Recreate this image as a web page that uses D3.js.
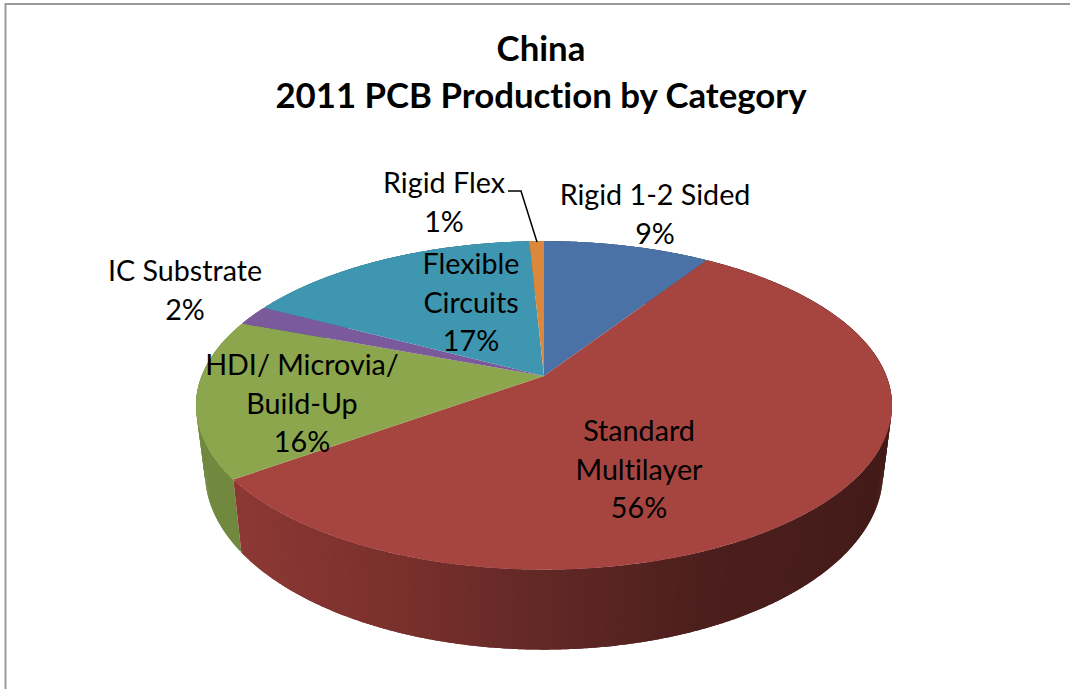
<!DOCTYPE html>
<html><head><meta charset="utf-8">
<script src="https://cdn.jsdelivr.net/npm/d3@7/dist/d3.min.js"></script>
<style>html,body{margin:0;padding:0;background:#fff;overflow:hidden}svg{display:block}text{font-family:Lato,Carlito,Calibri,sans-serif;fill:#000;font-variant-ligatures:none}</style>
</head><body><svg id="c" width="1070" height="689"></svg>
<script>
const categories = ["Rigid 1-2 Sided","Standard Multilayer","HDI/ Microvia/ Build-Up","IC Substrate","Flexible Circuits","Rigid Flex"];
const values = [9.2,55.9,15.6,2.0,16.5,0.8];
const titleLines = ["China","2011 PCB Production by Category"];
const topColors = ["#4a72a6","#a64440","#8ba64c","#7b5a9c","#3f96b0","#dc883c"];
const sideColors = ["#3a5a82","#8a3733","#71893f","#5f4679","#31768a","#ac6a2e"];
const labelLines = [["Rigid 1-2 Sided"],["Standard","Multilayer"],["HDI/ Microvia/","Build-Up"],["IC Substrate"],["Flexible","Circuits"],["Rigid Flex"]];
const labelAnchor = [[655,205],[639,441],[302,375],[185,281],[471,274],[444,193]];

const svg = d3.select("#c");
svg.append("rect").attr("x",5.5).attr("y",4).attr("width",1200).attr("height",900)
  .attr("fill","#fff").attr("stroke","#999").attr("stroke-width",2);

// perspective pie plane
const k = 0.179;
const sx = d3.scaleLinear().domain([-1,1]).range([544-342.4,544+342.4]);
const sy = d3.scaleLinear().domain([-1,1]).range([376-159,376+159]);
function topPt(a){const u=Math.sin(a), v=-Math.cos(a), w=1-k*v; return [sx(u/w), sy(v/w)];}
const bx = d3.scaleLinear().domain([544-348,544+348]).range([544-339,544+339]);
const by = d3.scaleLinear().domain([241,570]).range([295.4,650]);
function botPt(a){const p=topPt(a); return [bx(p[0]), by(p[1])];}

const pie = d3.pie().sort(null).value(d=>d)(values);
const line = d3.line();
const redShade = d3.scaleLinear().domain([240,420,560,700,880])
  .range(["#8c3834","#772f2c","#5f2725","#4c1f1d","#441b19"]).clamp(true);

// side wall: overlapping strips, clamped to each slice, so no seams show
const strips=[];
pie.forEach((s,i)=>{
  const span=s.endAngle-s.startAngle, n=Math.max(2,Math.ceil(span/0.012)), over=0.006;
  d3.range(n).forEach(j=>{
    const a0=Math.max(s.startAngle,s.startAngle+span*j/n-over), a1=Math.min(s.endAngle,s.startAngle+span*(j+1)/n+over);
    const samples=d3.range(5).map(m=>a0+(a1-a0)*m/4);
    strips.push({i,a0,a1,samples});
  });
});
strips.sort((p,q)=>Math.cos(q.a0)-Math.cos(p.a0));
svg.append("g").selectAll("path").data(strips).join("path")
  .attr("d",d=>line([...d.samples.map(topPt),...d.samples.slice().reverse().map(botPt)])+"Z")
  .attr("fill",d=>d.i===1?redShade(topPt((d.a0+d.a1)/2)[0]):sideColors[d.i]);

// top surface
svg.append("g").selectAll("path").data(pie).join("path")
  .attr("d",s=>{
    const n=Math.max(8,Math.ceil((s.endAngle-s.startAngle)/0.01));
    const pts=d3.range(n+1).map(j=>topPt(s.startAngle+(s.endAngle-s.startAngle)*j/n));
    return line([[sx(0),sy(0)],...pts])+"Z";
  })
  .attr("fill",(s,i)=>topColors[i]);

// title
svg.append("g").selectAll("text").data(titleLines).join("text")
  .attr("x",541).attr("y",(d,i)=>61+i*47).attr("text-anchor","middle")
  .attr("font-size",34.8).attr("font-weight",700).text(d=>d);

// leader
svg.append("path").attr("d",line([[508,191],[521,191],[537,242]]))
  .attr("fill","none").attr("stroke","#000").attr("stroke-width",1.5);

// data labels
const fmt = d3.format(".0f");
const lg = svg.append("g");
categories.forEach((c,i)=>{
  const rows=[...labelLines[i], fmt(values[i])+"%"];
  rows.forEach((r,j)=>{
    lg.append("text").attr("x",labelAnchor[i][0]).attr("y",labelAnchor[i][1]+j*38.5)
      .attr("text-anchor","middle").attr("font-size",28.7).text(r);
  });
});
</script></body></html>
